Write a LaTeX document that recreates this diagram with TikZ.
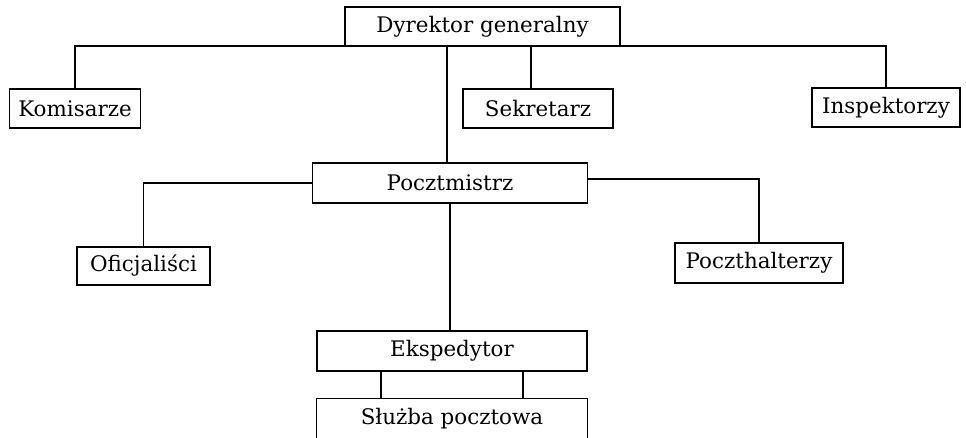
\documentclass[tikz,border=0pt]{standalone}
\usepackage{fontspec}
\setmainfont{DejaVu Serif}
\begin{document}
\begin{tikzpicture}[x=1bp,y=-1bp,line width=1.4bp,
  box/.style={draw,rectangle,inner sep=0pt,font=\fontsize{21.5}{24}\selectfont},
  openbox/.style={rectangle,inner sep=0pt,font=\fontsize{21.5}{24}\selectfont}]
\useasboundingbox (0,0) rectangle (966,438);
\coordinate (bus) at (0,46);
\node[box,minimum width=275bp,minimum height=39bp] (dyr) at (482.5,26.5) {Dyrektor generalny};
\node[box,minimum width=131bp,minimum height=39bp] (kom) at (75,108.5) {Komisarze};
\node[box,minimum width=150bp,minimum height=39bp] (sek) at (538,108.5) {Sekretarz};
\node[box,minimum width=148bp,minimum height=39bp] (insp) at (886,107.5) {Inspektorzy};
\node[box,minimum width=275bp,minimum height=40bp] (pm) at (450,183) {Pocztmistrz};
\node[box,minimum width=133bp,minimum height=38bp] (ofi) at (143.5,266) {Oficjaliści};
\node[box,minimum width=168bp,minimum height=40bp] (pocz) at (759,263) {Poczthalterzy};
\node[box,minimum width=270bp,minimum height=40bp] (eks) at (452,351) {Ekspedytor};
\node[openbox,minimum width=270bp,minimum height=40bp] (slu) at (452,419) {Służba pocztowa};
\draw (slu.south west) -- (slu.north west) -- (slu.north east) -- (slu.south east);
% connectors
\draw (kom.north) |- (insp.north |- bus) -- (insp.north);
\draw ([xshift=-7bp]sek.north) -- ([xshift=-7bp]sek.north |- bus);
\draw ([xshift=-3bp]pm.north) -- ([xshift=-3bp]pm.north |- bus);
\draw (pm.west) -| (ofi.north);
\draw ([yshift=4bp]pm.east) -| (pocz.north);
\draw (pm.south) -- (pm.south |- eks.north);
\draw ([xshift=-71bp]eks.south) -- ([xshift=-71bp]slu.north);
\draw ([xshift=71bp]eks.south) -- ([xshift=71bp]slu.north);
\end{tikzpicture}
\end{document}
